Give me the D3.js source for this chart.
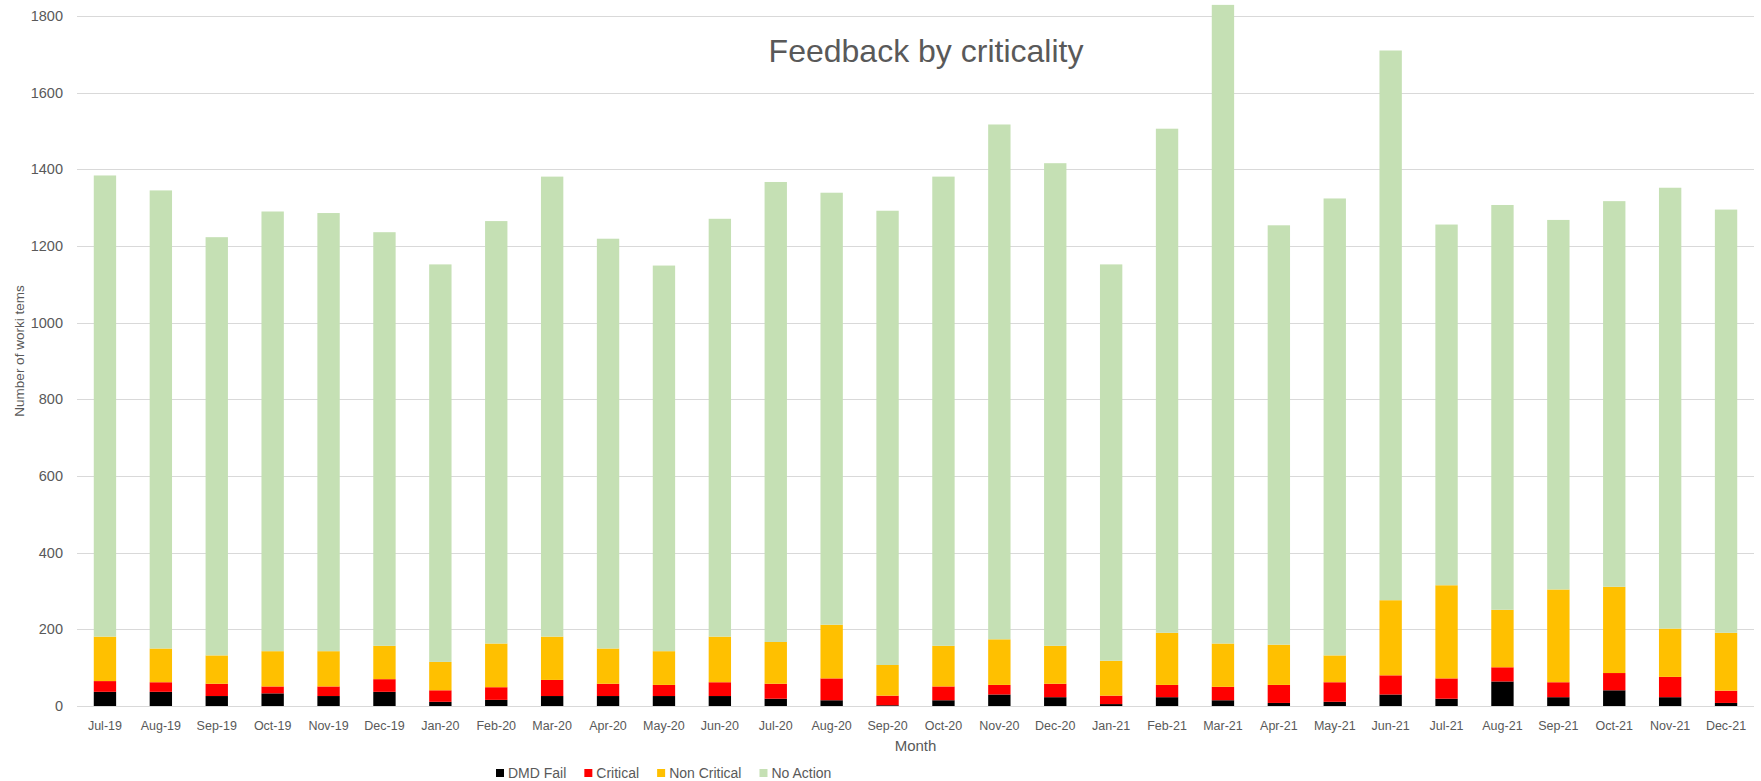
<!DOCTYPE html>
<html>
<head>
    <meta charset="utf-8" />
    <script src="https://cdn.jsdelivr.net/npm/d3@7"></script>
    <title>Feedback by criticality</title>
    <style>
        body { margin: 0; background: #fff; }
        text { font-family: "Liberation Sans", Arial, sans-serif; fill: #595959; }
    </style>
</head>
<body>
    <script>
        var months = ["Jul-19", "Aug-19", "Sep-19", "Oct-19", "Nov-19", "Dec-19",
            "Jan-20", "Feb-20", "Mar-20", "Apr-20", "May-20", "Jun-20",
            "Jul-20", "Aug-20", "Sep-20", "Oct-20", "Nov-20", "Dec-20",
            "Jan-21", "Feb-21", "Mar-21", "Apr-21", "May-21", "Jun-21",
            "Jul-21", "Aug-21", "Sep-21", "Oct-21", "Nov-21", "Dec-21"];

        var dmdFail = [37, 37, 26, 33, 26, 37, 11, 16, 26, 26,
            26, 26, 19, 15, 2, 15, 30, 23, 5, 23,
            15, 8, 11, 30, 19, 64, 23, 41, 23, 8];
        var critical = [28, 25, 32, 18, 25, 33, 30, 33, 42, 32,
            29, 36, 39, 57, 25, 36, 25, 35, 22, 32,
            35, 47, 51, 50, 53, 37, 39, 45, 53, 32];
        var nonCritical = [116, 88, 74, 92, 92, 87, 74, 114, 113, 92,
            88, 119, 109, 140, 80, 106, 119, 99, 91, 136,
            113, 105, 70, 196, 243, 150, 242, 225, 126, 151];
        var noAction = [1203, 1195, 1091, 1147, 1143, 1079, 1037, 1102, 1200, 1069,
            1006, 1090, 1200, 1127, 1185, 1224, 1343, 1259, 1034, 1315,
            1666, 1094, 1192, 1434, 941, 1056, 964, 1006, 1150, 1104];

        var seriesNames = ["DMD Fail", "Critical", "Non Critical", "No Action"];
        var seriesColors = ["#000000", "#ff0000", "#ffc000", "#c5e0b4"];
        var yTicks = [0, 200, 400, 600, 800, 1000, 1200, 1400, 1600, 1800];

        var width = 1761,
            height = 781;

        var rows = months.map(function (m, i) {
            return {
                month: m,
                "DMD Fail": dmdFail[i],
                "Critical": critical[i],
                "Non Critical": nonCritical[i],
                "No Action": noAction[i]
            };
        });

        var x = d3.scaleBand()
            .domain(months)
            .range([77, 1754])
            .paddingInner(0.6)
            .paddingOuter(0.3);

        var y = d3.scaleLinear()
            .domain([0, 1800])
            .range([706, 16]);

        var color = d3.scaleOrdinal()
            .domain(seriesNames)
            .range(seriesColors);

        var svg = d3.select("body").append("svg")
            .attr("width", width)
            .attr("height", height);

        // gridlines
        svg.append("g")
            .selectAll("line")
            .data(yTicks)
            .enter().append("line")
            .attr("x1", 77)
            .attr("x2", 1754)
            .attr("y1", function (d) { return Math.round(y(d)) + 0.5; })
            .attr("y2", function (d) { return Math.round(y(d)) + 0.5; })
            .attr("stroke", "#d9d9d9")
            .attr("stroke-width", 1);

        // y tick labels
        svg.append("g")
            .selectAll("text")
            .data(yTicks)
            .enter().append("text")
            .attr("x", 63)
            .attr("y", function (d) { return y(d); })
            .attr("dy", "0.35em")
            .attr("text-anchor", "end")
            .attr("font-size", "14.5px")
            .text(function (d) { return d; });

        var stack = d3.stack().keys(seriesNames);

        svg.append("g")
            .selectAll("g")
            .data(stack(rows))
            .enter().append("g")
            .attr("fill", function (d) { return color(d.key); })
            .selectAll("rect")
            .data(function (d) { return d; })
            .enter().append("rect")
            .attr("x", function (d) { return x(d.data.month); })
            .attr("width", x.bandwidth())
            .attr("y", function (d) { return y(d[1]); })
            .attr("height", function (d) { return y(d[0]) - y(d[1]); });

        // x tick labels
        svg.append("g")
            .selectAll("text")
            .data(months)
            .enter().append("text")
            .attr("x", function (d) { return x(d) + x.bandwidth() / 2; })
            .attr("y", 730)
            .attr("text-anchor", "middle")
            .attr("font-size", "12.5px")
            .text(function (d) { return d; });

        svg.append("text")
            .attr("x", (77 + 1754) / 2)
            .attr("y", 751)
            .attr("text-anchor", "middle")
            .attr("font-size", "15px")
            .text("Month");

        svg.append("text")
            .attr("transform", "translate(24,351) rotate(-90)")
            .attr("text-anchor", "middle")
            .attr("font-size", "13.5px")
            .text("Number of worki tems");

        svg.append("text")
            .attr("x", 926)
            .attr("y", 62)
            .attr("text-anchor", "middle")
            .attr("font-size", "32px")
            .text("Feedback by criticality");

        // legend
        var legend = svg.append("g");
        var lx = 496;
        seriesNames.forEach(function (name) {
            legend.append("rect")
                .attr("x", lx)
                .attr("y", 769)
                .attr("width", 8)
                .attr("height", 8)
                .attr("fill", color(name));
            var t = legend.append("text")
                .attr("x", lx + 12)
                .attr("y", 778)
                .attr("font-size", "14px")
                .text(name);
            lx += 12 + t.node().getComputedTextLength() + 18;
        });
    </script>
</body>
</html>
